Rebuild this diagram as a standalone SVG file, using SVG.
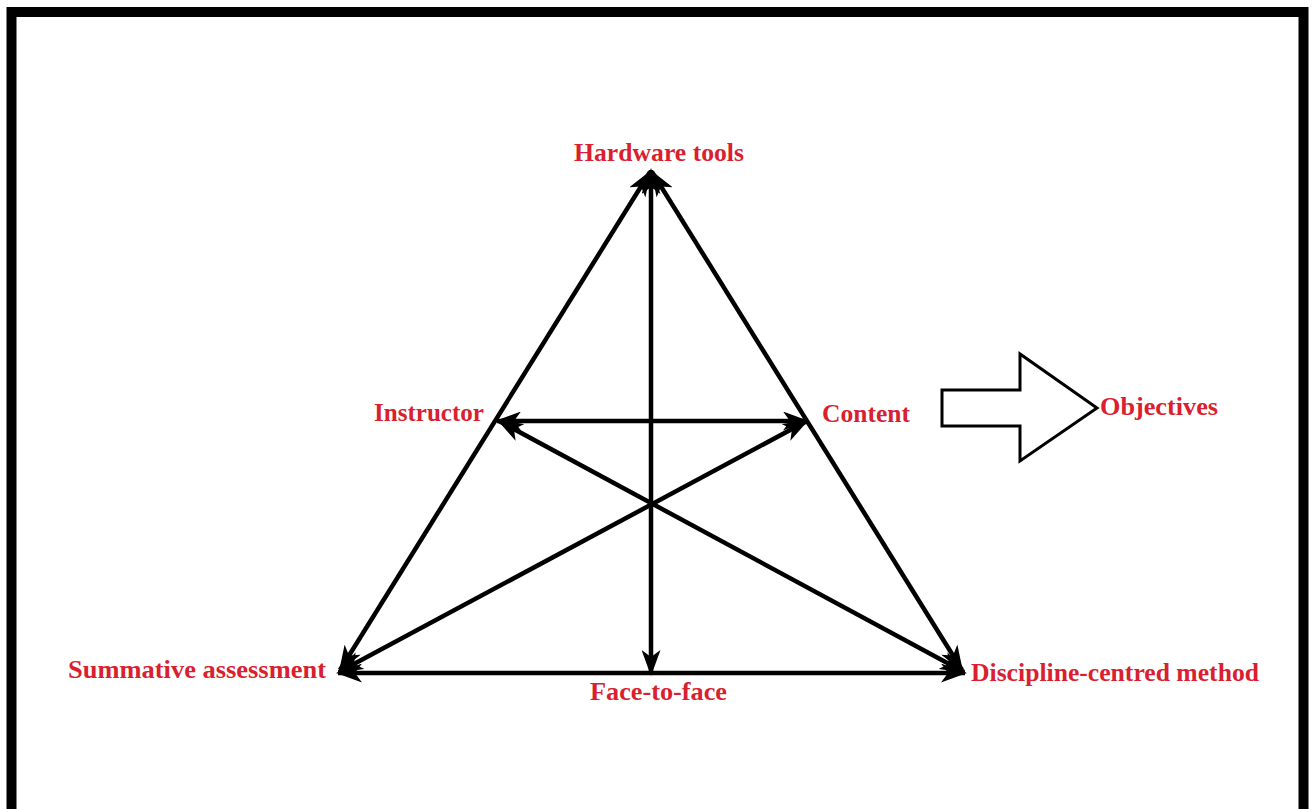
<svg xmlns="http://www.w3.org/2000/svg" width="1315" height="809" viewBox="0 0 1315 809">
<style>
.lbl{font-family:"Liberation Serif","Times New Roman",serif;font-weight:bold;font-size:26px;fill:#d91f30}
.ln{stroke:#000;stroke-width:4.5;fill:none;marker-start:url(#ah);marker-end:url(#ah)}
</style>
<defs>
<marker id="ah" viewBox="0 0 26 19" refX="24" refY="9.5" markerWidth="26" markerHeight="19" orient="auto-start-reverse" markerUnits="userSpaceOnUse">
<path d="M0,0 L26,9.5 L0,19 L7,9.5 Z" fill="#000"/>
</marker>
</defs>
<rect x="0" y="0" width="1315" height="809" fill="#fff"/>
<path d="M11.5,830 V12 H1303.5 V830" fill="none" stroke="#000" stroke-width="10"/>
<g id="connectors">
<line class="ln" x1="340" y1="670" x2="650" y2="172"/>
<line class="ln" x1="962" y1="670" x2="652" y2="172"/>
<line class="ln" x1="651" y1="170" x2="651" y2="674"/>
<line class="ln" x1="497" y1="421" x2="807" y2="421"/>
<line class="ln" x1="338" y1="673" x2="965" y2="673"/>
<line class="ln" x1="499" y1="421" x2="964" y2="672"/>
<line class="ln" x1="339" y1="672" x2="807" y2="421"/>
</g>
<g id="objectives-arrow">
<path d="M942,390 H1020 V354 L1097,408 L1020,461 V426 H942 Z" fill="#fff" stroke="#000" stroke-width="3" stroke-linejoin="miter"/>
</g>
<g id="n-hardware"><text class="lbl" x="659" y="161" text-anchor="middle" textLength="170" lengthAdjust="spacingAndGlyphs">Hardware tools</text></g>
<g id="n-instructor"><text class="lbl" x="374" y="421" textLength="110" lengthAdjust="spacingAndGlyphs">Instructor</text></g>
<g id="n-content"><text class="lbl" x="822" y="422" textLength="88" lengthAdjust="spacingAndGlyphs">Content</text></g>
<g id="n-objectives"><text class="lbl" x="1100" y="415" textLength="118" lengthAdjust="spacingAndGlyphs">Objectives</text></g>
<g id="n-summative"><text class="lbl" x="68" y="678" textLength="258" lengthAdjust="spacingAndGlyphs">Summative assessment</text></g>
<g id="n-face"><text class="lbl" x="590" y="700" textLength="137" lengthAdjust="spacingAndGlyphs">Face-to-face</text></g>
<g id="n-discipline"><text class="lbl" x="971" y="681" textLength="288" lengthAdjust="spacingAndGlyphs">Discipline-centred method</text></g>
</svg>
